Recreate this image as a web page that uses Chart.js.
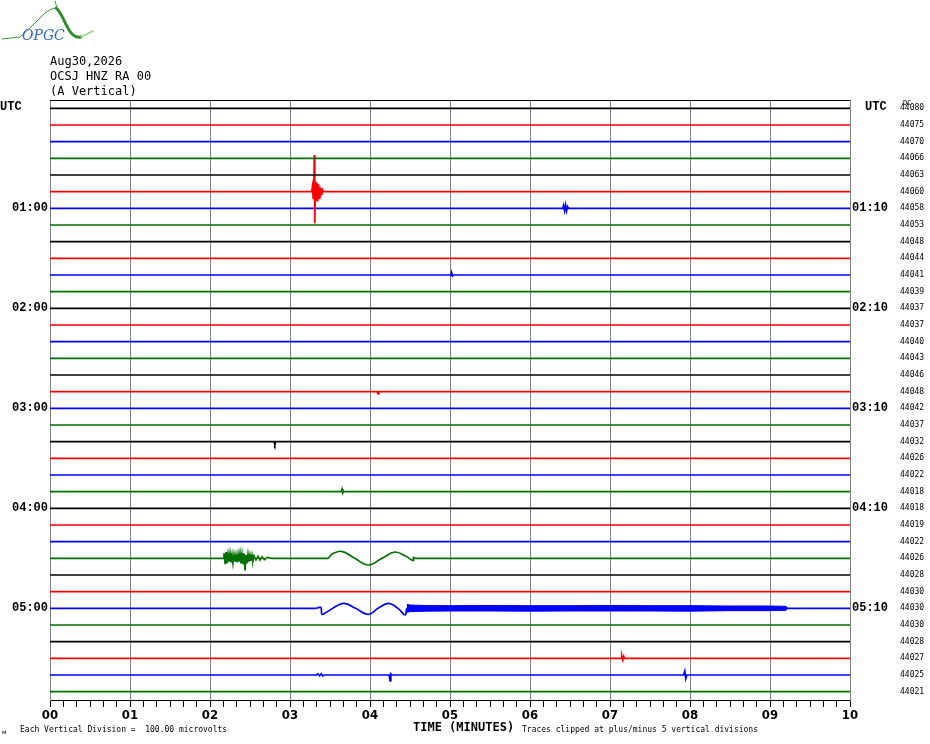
<!DOCTYPE html>
<html>
<head>
<meta charset="utf-8">
<script src="https://cdn.jsdelivr.net/npm/chart.js@4.4.1/dist/chart.umd.min.js"></script>
<style>
  body { margin: 0; background: #fff; }
</style>
</head>
<body>
<canvas id="c" width="930" height="744"></canvas>
<script>
// rows = one 10 minute line each, 00:00 .. 05:50 UTC
const rowCount = 36;
const hourLabels = ['00:00', '01:00', '02:00', '03:00', '04:00', '05:00'];
const hourLabelsRight = ['00:10', '01:10', '02:10', '03:10', '04:10', '05:10'];
const dcValues = [44080, 44075, 44070, 44066, 44063, 44060, 44058, 44053, 44048, 44044,
  44041, 44039, 44037, 44037, 44040, 44043, 44046, 44048, 44042, 44037,
  44032, 44026, 44022, 44018, 44018, 44019, 44022, 44026, 44028, 44030,
  44030, 44030, 44028, 44027, 44025, 44021];
const minuteLabels = ['00', '01', '02', '03', '04', '05', '06', '07', '08', '09', '10'];
const headerLines = ['Aug30,2026', 'OCSJ HNZ RA 00', '(A Vertical)'];

// [minute, amplitude in vertical divisions]
const quakeRed = [[3.271, 0], [3.28, 0.3], [3.29, -0.4], [3.298, 0.45], [3.304, 2.2], [3.31, -1.9],
  [3.318, 0.6], [3.328, -0.5], [3.336, 0.55], [3.345, -0.6], [3.354, 0.45], [3.363, -0.4],
  [3.372, 0.3], [3.381, -0.3], [3.39, 0.2], [3.399, -0.2], [3.408, 0.1], [3.417, 0]];
const localGreen = [[2.167, 0], [2.175, 0.3], [2.19, -0.35], [2.2, 0.38], [2.212, -0.3], [2.225, 0.25],
  [2.237, -0.2], [2.25, 0.3], [2.262, -0.25], [2.275, 0.2], [2.287, -0.3], [2.3, 0.22], [2.312, -0.2],
  [2.325, 0.2], [2.337, -0.25], [2.35, 0.25], [2.362, -0.2], [2.375, 0.3], [2.387, -0.3], [2.4, 0.25],
  [2.412, -0.35], [2.425, 0.3], [2.4375, -0.72], [2.45, 0.2], [2.462, -0.3], [2.475, 0.25], [2.487, -0.2],
  [2.5, 0.2], [2.512, -0.15], [2.525, 0.2], [2.537, -0.15], [2.55, 0.15], [2.575, -0.1], [2.6, 0.12],
  [2.625, -0.1], [2.65, 0.08], [2.68, -0.08], [2.72, 0.06], [2.77, 0]];
const surfGreen = [[3.479, 0], [3.5, 0.12], [3.521, 0.25], [3.646, 0.42], [3.81, 0], [3.98, -0.4],
  [4.15, 0], [4.31, 0.38], [4.45, 0.12], [4.54, -0.14], [4.545, 0.06], [4.56, 0]];
const surfBlue = [[3.33, 0], [3.385, 0.06], [3.4, -0.36], [3.45, -0.25], [3.667, 0.3], [3.82, 0],
  [3.979, -0.36], [4.1, 0], [4.229, 0.3], [4.35, 0], [4.4375, -0.4], [4.458, 0]];
const bandTimes = [4.46, 4.5, 4.7, 5.0, 5.5, 6.0, 6.5, 7.0, 7.5, 8.0, 8.5, 9.0, 9.2, 9.22];
const bandHigh = [0.24, 0.2, 0.17, 0.16, 0.17, 0.16, 0.16, 0.17, 0.16, 0.16, 0.14, 0.14, 0.12, 0];
const bandLow = [-0.24, -0.2, -0.17, -0.16, -0.16, -0.17, -0.16, -0.16, -0.16, -0.17, -0.14, -0.14, -0.12, 0];

const blip6 = [[6.41, 0], [6.42, 0.18], [6.432, -0.14], [6.445, 0.2], [6.457, -0.16], [6.47, 0.1], [6.48, 0]];
const blip10 = [[5.01, 0], [5.02, 0.16], [5.03, -0.06], [5.04, 0]];
const blip17 = [[4.09, 0], [4.1, -0.14], [4.11, 0]];
const blip20 = [[2.8, 0], [2.81, -0.16], [2.82, 0]];
const blip23 = [[3.64, 0], [3.65, 0.16], [3.66, -0.08], [3.67, 0]];
const blip33 = [[7.14, 0], [7.147, 0.16], [7.16, -0.1], [7.172, 0.12], [7.18, 0]];
const blip34a = [[3.33, 0], [3.35, 0.07], [3.37, -0.05], [3.39, 0.07], [3.41, -0.05], [3.43, 0]];
const blip34b = [[4.24, 0], [4.25, -0.36], [4.26, 0.06], [4.27, 0]];
const blip34c = [[7.92, 0], [7.935, 0.24], [7.947, -0.22], [7.96, 0]];

const sharpEvents = [
  { row: 5, pts: quakeRed }, { row: 27, pts: localGreen },
  { row: 6, pts: blip6 }, { row: 10, pts: blip10 }, { row: 17, pts: blip17 },
  { row: 20, pts: blip20 }, { row: 23, pts: blip23 }, { row: 33, pts: blip33 },
  { row: 34, pts: blip34a }, { row: 34, pts: blip34b }, { row: 34, pts: blip34c }
];
const smoothEvents = [{ row: 27, pts: surfGreen }, { row: 30, pts: surfBlue }];

const palette = ['#000000', '#ff0000', '#0000ff', '#007000'];
const rows = Array.from({ length: rowCount }, (_, i) => i);

// build one line per row, events replace the flat part
function rowPoints(r) {
  let evs = sharpEvents.filter(e => e.row === r).map(e => ({ pts: e.pts, smooth: false }))
    .concat(smoothEvents.filter(e => e.row === r).map(e => ({ pts: e.pts, smooth: true })));
  evs.sort((a, b) => a.pts[0][0] - b.pts[0][0]);
  let pts = [{ x: 0, y: r }];
  evs.forEach(e => {
    if (e.smooth) {
      let t0 = e.pts[0][0], t1 = e.pts[e.pts.length - 1][0];
      pts.push({ x: t0, y: r }, { x: (t0 + t1) / 2, y: null }, { x: t1, y: r });
    } else {
      e.pts.forEach(p => pts.push({ x: p[0], y: r - p[1] }));
    }
  });
  pts.push({ x: 10, y: r });
  return pts;
}

let datasets = rows.map(r => ({
  data: rowPoints(r),
  borderColor: palette[r % 4],
  borderWidth: 1.7,
  pointRadius: 0,
  tension: 0,
  spanGaps: false
}));

smoothEvents.forEach(e => {
  datasets.push({
    data: e.pts.map(p => ({ x: p[0], y: e.row - p[1] })),
    borderColor: palette[e.row % 4],
    borderWidth: 1.7,
    pointRadius: 0,
    tension: 0.4
  });
});

// noisy band after the surface waves on the 05:00 line
datasets.push({
  data: bandTimes.map((t, i) => ({ x: t, y: 30 - bandHigh[i] })),
  borderColor: palette[2], backgroundColor: palette[2], borderWidth: 1,
  pointRadius: 0, tension: 0, fill: '+1'
});
datasets.push({
  data: bandTimes.map((t, i) => ({ x: t, y: 30 - bandLow[i] })),
  borderColor: palette[2], borderWidth: 1, pointRadius: 0, tension: 0
});

const isWhole = v => Math.abs(v - Math.round(v)) < 1e-6;

const decor = {
  id: 'decor',
  afterDraw(chart) {
    const { ctx, chartArea: a, scales } = chart;
    ctx.save();
    // top border
    ctx.strokeStyle = '#000';
    ctx.lineWidth = 1;
    ctx.beginPath();
    ctx.moveTo(a.left, a.top + 0.5);
    ctx.lineTo(a.right, a.top + 0.5);
    ctx.stroke();

    ctx.fillStyle = '#000';
    ctx.textBaseline = 'middle';
    ctx.textAlign = 'left';
    ctx.font = '12px "DejaVu Sans Mono"';
    headerLines.forEach((s, i) => ctx.fillText(s, a.left, 62 + 15 * i));

    const yTop = scales.y.getPixelForValue(0);
    ctx.font = 'bold 12px "Liberation Mono"';
    ctx.fillText('UTC', 0, yTop - 1);
    ctx.fillText('UTC', a.right + 15, yTop - 1);
    ctx.font = '7px "DejaVu Sans Mono"';
    ctx.fillText('DC', a.right + 53, yTop - 5);

    // footer
    ctx.font = '8px "DejaVu Sans Mono"';
    ctx.fillText('Each Vertical Division =  100.00 microvolts', 20, 730);
    ctx.fillText('Traces clipped at plus/minus 5 vertical divisions', 522, 730);
    ctx.font = '6px "DejaVu Sans"';
    ctx.fillText('м', 2, 732);
    ctx.font = 'bold 12px "DejaVu Sans Mono"';
    ctx.fillText('TIME (MINUTES)', 413, 728);

    // logo
    ctx.lineCap = 'round';
    ctx.strokeStyle = '#3a9a3a';
    ctx.lineWidth = 1;
    ctx.beginPath();
    ctx.moveTo(2, 39);
    ctx.lineTo(20, 37);
    ctx.bezierCurveTo(28, 30, 36, 22, 44, 14);
    ctx.quadraticCurveTo(50, 8, 56, 8);
    ctx.stroke();
    ctx.beginPath();
    ctx.moveTo(55, 1);
    ctx.lineTo(57, 8);
    ctx.stroke();
    ctx.strokeStyle = '#2f8f2f';
    ctx.lineWidth = 3;
    ctx.beginPath();
    ctx.moveTo(56, 8);
    ctx.bezierCurveTo(62, 12, 66, 28, 72, 34);
    ctx.quadraticCurveTo(76, 38, 81, 37);
    ctx.stroke();
    ctx.strokeStyle = '#9ccf8a';
    ctx.lineWidth = 1.5;
    ctx.beginPath();
    ctx.moveTo(81, 37);
    ctx.lineTo(93, 31);
    ctx.stroke();
    ctx.font = 'italic 14px "DejaVu Serif"';
    ctx.fillStyle = '#2a66c8';
    ctx.fillText('OPGC', 22, 36);
    ctx.restore();
  }
};

const timeFont = { family: 'Liberation Mono', size: 12, weight: 'bold' };

new Chart(document.getElementById('c'), {
  type: 'line',
  data: { datasets: datasets },
  plugins: [decor],
  options: {
    responsive: false,
    animation: false,
    devicePixelRatio: 1,
    layout: { padding: { top: 100, left: 0, right: 0, bottom: 0 } },
    plugins: { legend: { display: false }, tooltip: { enabled: false } },
    scales: {
      x: {
        type: 'linear', min: 0, max: 10,
        afterBuildTicks: s => { s.ticks = Array.from({ length: 61 }, (_, i) => ({ value: i / 6 })); },
        afterFit: s => { s.height = 44; },
        grid: {
          color: c => (c.tick && isWhole(c.tick.value)) ? '#808080' : 'rgba(0,0,0,0)',
          tickColor: '#000', tickLength: 7, lineWidth: 1
        },
        border: { color: '#000' },
        ticks: {
          autoSkip: false, maxRotation: 0, padding: 1, color: '#000',
          font: { family: 'DejaVu Sans Condensed', size: 13, weight: 'bold' },
          callback: v => isWhole(v) ? minuteLabels[Math.round(v)] : ''
        }
      },
      y: {
        type: 'linear', position: 'left', min: -0.5, max: 35.5, reverse: true,
        afterBuildTicks: s => { s.ticks = rows.map(v => ({ value: v })); },
        afterFit: s => { s.width = 50; },
        grid: { drawOnChartArea: false, drawTicks: false },
        border: { color: '#808080' },
        ticks: {
          autoSkip: false, padding: 2, color: '#000', font: timeFont,
          callback: v => (v > 0 && v % 6 === 0) ? hourLabels[v / 6] : ''
        }
      },
      yR: {
        type: 'linear', position: 'right', weight: 0, min: -0.5, max: 35.5, reverse: true,
        afterBuildTicks: s => { s.ticks = rows.map(v => ({ value: v })); },
        afterFit: s => { s.width = 50; },
        grid: { drawOnChartArea: false, drawTicks: false },
        border: { color: '#808080' },
        ticks: {
          autoSkip: false, padding: 2, color: '#000', font: timeFont,
          callback: v => (v > 0 && v % 6 === 0) ? hourLabelsRight[v / 6] : ''
        }
      },
      yDC: {
        type: 'linear', position: 'right', weight: 1, min: -0.5, max: 35.5, reverse: true,
        afterBuildTicks: s => { s.ticks = rows.map(v => ({ value: v })); },
        afterFit: s => { s.width = 30; },
        grid: { display: false, drawTicks: false },
        border: { display: false },
        ticks: {
          autoSkip: false, padding: 0, color: '#000',
          font: { family: 'DejaVu Sans Mono', size: 8 },
          callback: v => String(dcValues[v])
        }
      }
    }
  }
});
</script>
</body>
</html>
